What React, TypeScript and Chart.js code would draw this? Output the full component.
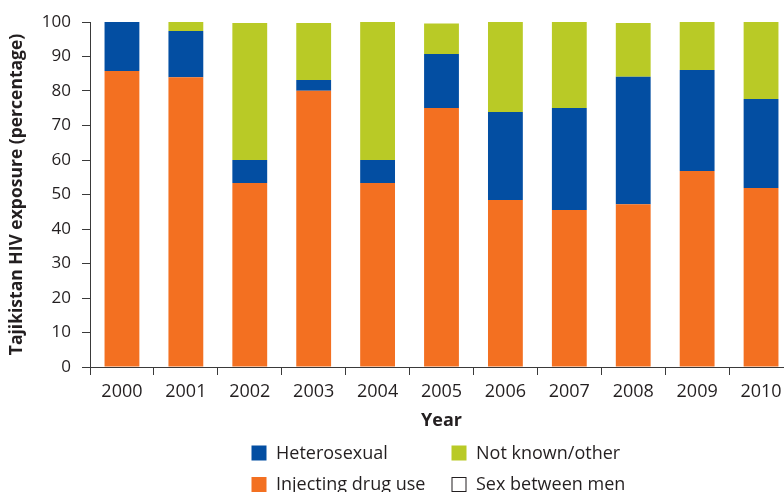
import React, { useEffect, useRef } from "react";
import { Chart, registerables } from "chart.js";

Chart.register(...registerables);

const years = ["2000", "2001", "2002", "2003", "2004", "2005", "2006", "2007", "2008", "2009", "2010"];
const injectingDrugUse = [85.8, 84.0, 53.3, 80.1, 53.3, 75.1, 48.4, 45.5, 47.2, 56.8, 51.9];
const heterosexual = [14.2, 13.4, 6.7, 3.1, 6.7, 15.6, 25.5, 29.6, 36.9, 29.3, 25.8];
const notKnownOther = [0, 2.6, 39.7, 16.5, 40.0, 8.9, 26.1, 24.9, 15.6, 13.9, 22.3];
const sexBetweenMen = [0, 0, 0, 0, 0, 0, 0, 0, 0, 0, 0];
const legendOrder = ["Heterosexual", "Not known/other", "Injecting drug use", "Sex between men"];

const TEXT = "#231f20";
const FONT = "'Open Sans', sans-serif";

const gridLegend = {
  id: "gridLegend",
  afterDraw(chart: any) {
    const ctx = chart.ctx;
    const cols = [251.5, 451.5];
    const rows = [445.5, 477];
    ctx.save();
    ctx.font = `18px ${FONT}`;
    ctx.textBaseline = "middle";
    ctx.textAlign = "left";
    legendOrder.forEach((label, i) => {
      const ds = chart.data.datasets.find((d: any) => d.label === label);
      if (!ds) return;
      const x = cols[i % 2];
      const y = rows[Math.floor(i / 2)];
      ctx.fillStyle = ds.backgroundColor;
      ctx.fillRect(x, y, 15, 15);
      if (ds.backgroundColor === "#ffffff") {
        ctx.strokeStyle = TEXT;
        ctx.lineWidth = 1;
        ctx.strokeRect(x + 0.5, y + 0.5, 14, 14);
      }
      ctx.fillStyle = TEXT;
      ctx.fillText(label, x + 24.5, y + 8);
    });
    ctx.restore();
  },
};

export default function App() {
  const ref = useRef<HTMLCanvasElement>(null);

  useEffect(() => {
    if (!ref.current) return;
    const chart = new Chart(ref.current, {
      type: "bar",
      data: {
        labels: years,
        datasets: [
          { label: "Injecting drug use", data: injectingDrugUse, backgroundColor: "#f37021", borderWidth: 0 },
          { label: "Heterosexual", data: heterosexual, backgroundColor: "#034ea2", borderWidth: 0 },
          { label: "Not known/other", data: notKnownOther, backgroundColor: "#b9ca26", borderWidth: 0 },
          { label: "Sex between men", data: sexBetweenMen, backgroundColor: "#ffffff", borderColor: TEXT, borderWidth: 0 },
        ],
      },
      options: {
        responsive: false,
        animation: false,
        devicePixelRatio: 1,
        layout: { padding: { top: 22, bottom: 60, left: 0, right: 0 } },
        datasets: { bar: { categoryPercentage: 1, barPercentage: 0.545 } },
        plugins: { legend: { display: false }, tooltip: { enabled: false } },
        scales: {
          x: {
            stacked: true,
            offset: true,
            grid: { drawOnChartArea: false, offset: true, tickLength: 8, color: "#3a3a3a", tickWidth: 1 },
            border: { color: "#3a3a3a", width: 1 },
            ticks: { color: TEXT, font: { family: FONT, size: 18 }, padding: 6, maxRotation: 0 },
            title: { display: true, text: "Year", color: TEXT, font: { family: FONT, size: 18, weight: "bold" }, padding: { top: 0, bottom: 0 } },
            afterFit: (s: any) => { s.height = 65; },
          },
          y: {
            stacked: true,
            min: 0,
            max: 100,
            grid: { drawOnChartArea: false, tickLength: 8, color: "#3a3a3a", tickWidth: 1 },
            border: { color: "#3a3a3a", width: 1 },
            ticks: { stepSize: 10, color: TEXT, font: { family: FONT, size: 17 }, padding: 11 },
            title: { display: true, text: "Tajikistan HIV exposure (percentage)", color: TEXT, font: { family: FONT, size: 17.5, weight: "bold" }, padding: { top: 7, bottom: 0 } },
            afterFit: (s: any) => { s.width = 90; },
          },
        },
      },
      plugins: [gridLegend],
    });
    return () => chart.destroy();
  }, []);

  return (
    <div style={{ position: "absolute", left: 0, top: 0, width: 784, height: 492, overflow: "hidden", background: "#ffffff" }}>
      <canvas ref={ref} width={793} height={492} style={{ display: "block", width: 793, height: 492 }} />
    </div>
  );
}
